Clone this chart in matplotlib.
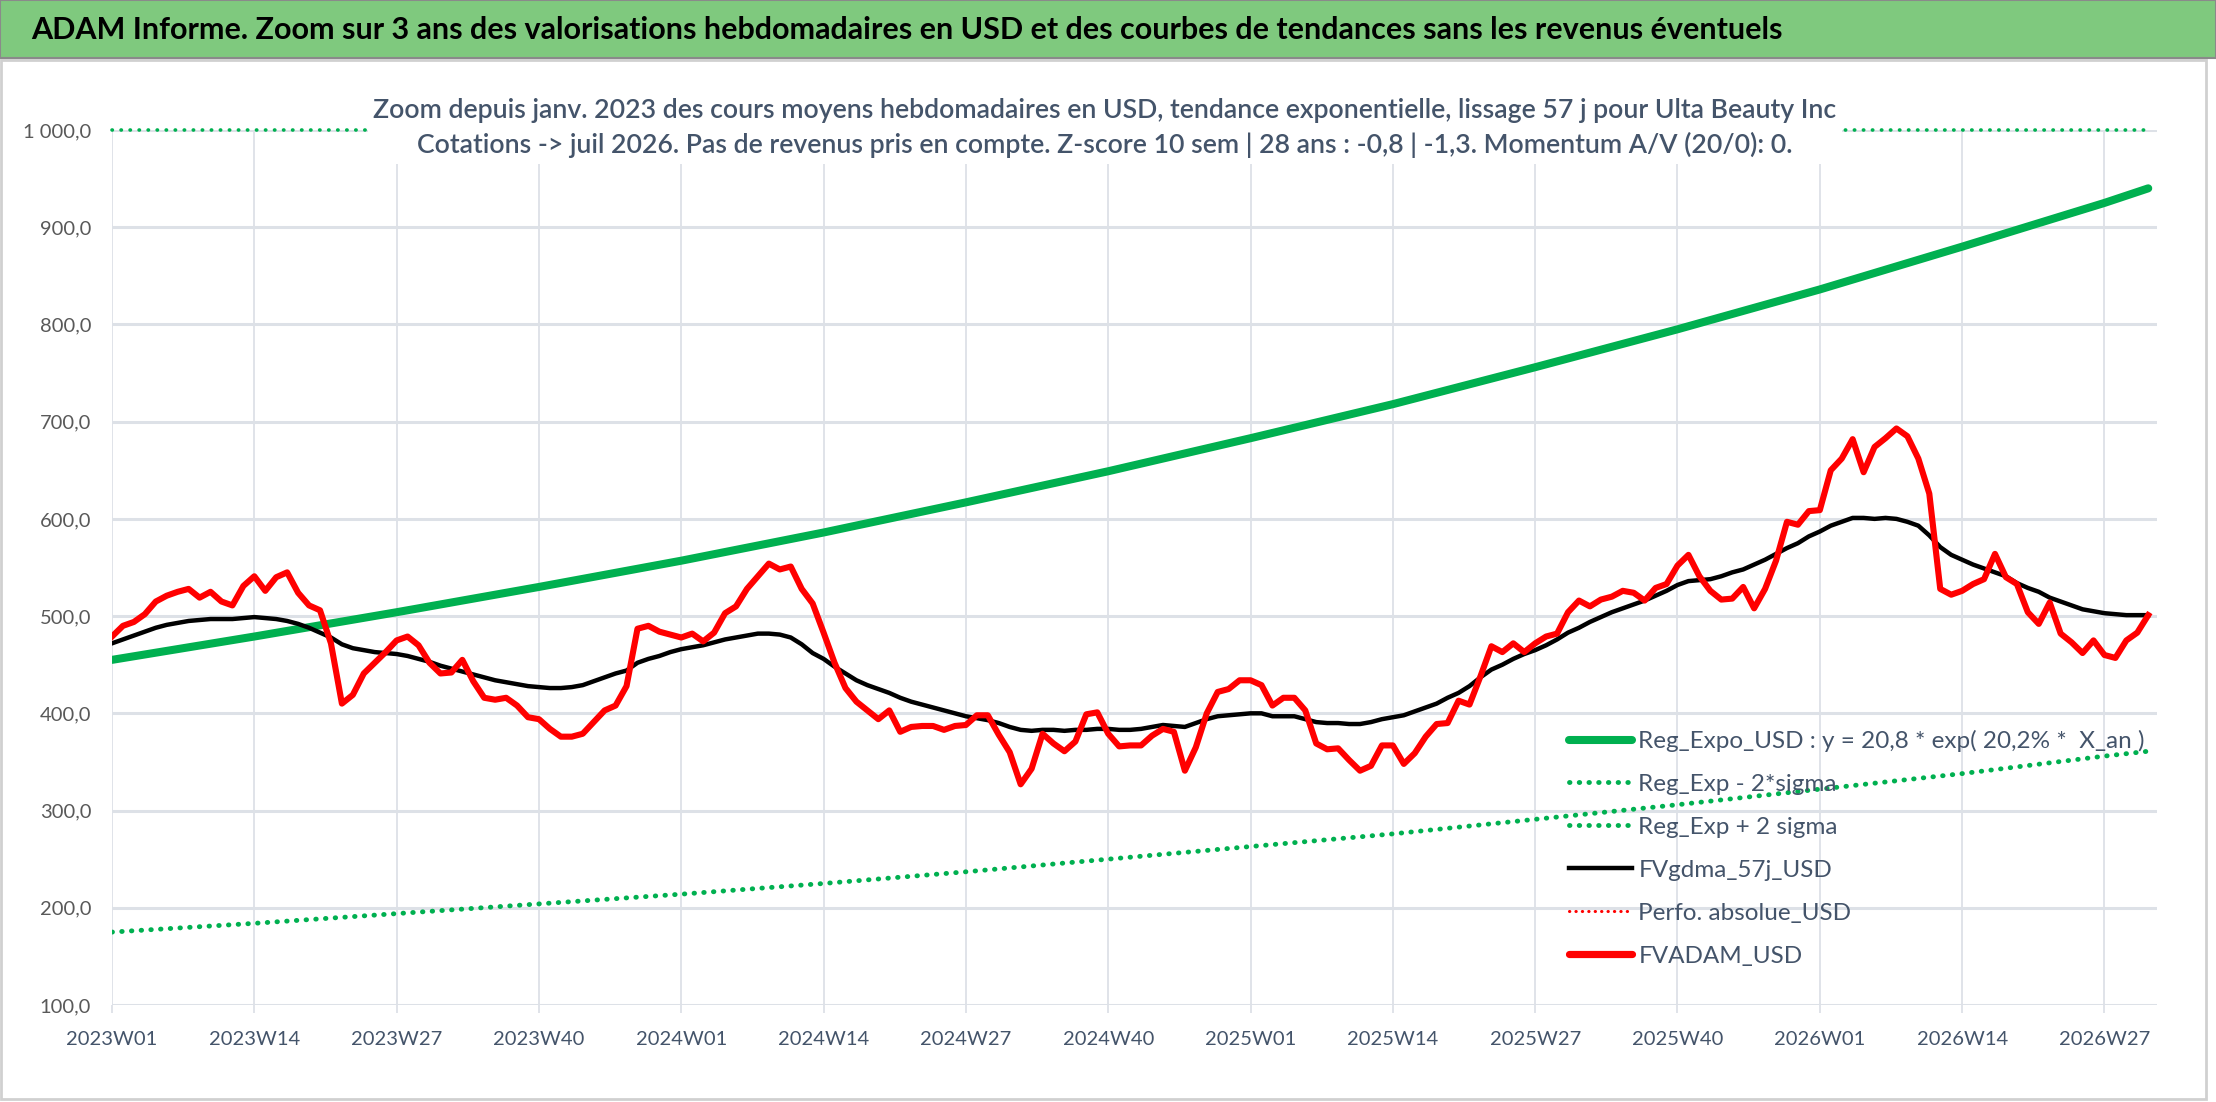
import matplotlib
matplotlib.use("Agg")
import matplotlib.pyplot as plt
from matplotlib.patches import Rectangle
from matplotlib.lines import Line2D
import numpy as np

plt.rcParams['font.family'] = ['Lato', 'DejaVu Sans']

# --- data -----------------------------------------------------------------
years = [2023, 2024, 2025, 2026]
n_weeks = 187
week_labels = [f"{y}W{w:02d}" for y in years for w in range(1, 53)][:n_weeks]

# FVADAM_USD weekly
fvadam = [479, 490, 494, 502, 515, 521, 525, 528, 519, 525, 515, 511, 531,
          541, 526, 540, 545, 524, 511, 506, 472, 410, 419, 441, 452, 463,
          475, 479, 470, 452, 441, 442, 455, 433, 416, 414, 416, 408, 396,
          394, 384, 376, 376, 379, 391, 403, 408, 428, 487, 490, 484, 481,
          478, 482, 474, 483, 503, 510, 528, 541, 554, 548, 551, 528, 513,
          483, 452, 426, 412, 403, 394, 403, 381, 386, 387, 387, 383, 387,
          388, 398, 398, 378, 360, 327, 343, 379, 369, 361, 371, 399, 401,
          379, 366, 367, 367, 377, 384, 381, 341, 365, 400, 422, 425, 434,
          434, 429, 408, 416, 416, 403, 369, 363, 364, 352, 341, 346, 367,
          367, 348, 359, 376, 389, 390, 413, 409, 438, 469, 463, 472, 463,
          472, 479, 482, 504, 516, 510, 517, 520, 526, 524, 516, 529, 533,
          552, 563, 541, 526, 517, 518, 530, 508, 528, 557, 597, 594, 608,
          609, 650, 662, 682, 648, 674, 683, 693, 685, 662, 626, 528, 522,
          526, 533, 538, 564, 540, 533, 504, 492, 514, 482, 473, 462, 475,
          460, 457, 475, 483, 501]

# FVgdma_57j_USD weekly
fvgdma = [472, 476, 480, 484, 488, 491, 493, 495, 496, 497, 497, 497, 498,
          499, 498, 497, 495, 492, 488, 483, 478, 471, 467, 465, 463, 462,
          461, 459, 456, 453, 449, 446, 443, 440, 437, 434, 432, 430, 428,
          427, 426, 426, 427, 429, 433, 437, 441, 444, 452, 456, 459, 463,
          466, 468, 470, 473, 476, 478, 480, 482, 482, 481, 478, 471, 462,
          456, 448, 441, 434, 429, 425, 421, 416, 412, 409, 406, 403, 400,
          397, 395, 393, 390, 386, 383, 382, 383, 383, 382, 383, 383, 384,
          384, 383, 383, 384, 386, 388, 387, 386, 390, 394, 397, 398, 399,
          400, 400, 397, 397, 397, 394, 391, 390, 390, 389, 389, 391, 394,
          396, 398, 402, 406, 410, 416, 421, 428, 437, 445, 450, 456, 461,
          465, 470, 476, 483, 488, 494, 499, 504, 508, 512, 516, 521, 526,
          532, 536, 537, 538, 541, 545, 548, 553, 558, 564, 570, 575, 582,
          587, 593, 597, 601, 601, 600, 601, 600, 597, 593, 583, 571, 563,
          558, 553, 549, 545, 541, 534, 529, 525, 519, 515, 511, 507, 505,
          503, 502, 501, 501, 501]

# regression and bands, read at the label weeks and at the last week
reg_weeks = [0, 13, 26, 39, 52, 65, 78, 91, 104, 117, 130, 143, 156, 169, 182, 186]
reg_expo = [455, 479, 504, 530, 557, 586, 617, 649, 683, 718, 756, 795, 836, 880, 925, 940]
reg_low = [175, 184, 194, 204, 214, 225, 237, 250, 263, 276, 291, 306, 322, 338, 356, 361]
reg_high = [1000] * len(reg_weeks)  # off scale, sits on the axis maximum

y_ticks = [100, 200, 300, 400, 500, 600, 700, 800, 900, 1000]

# --- figure ----------------------------------------------------------------
W, H = 2216, 1102
fig = plt.figure(figsize=(W / 100, H / 100), dpi=100)

# chart border + green title bar
fig.patches.append(Rectangle((1 / W, 3 / H), 2205 / W, (H - 63) / H, transform=fig.transFigure,
                             facecolor='white', edgecolor='#D0D0D0', lw=2, zorder=-5))
fig.patches.append(Rectangle((0, 1 - 58 / H), 1, 58 / H, transform=fig.transFigure,
                             facecolor='#7FC97E', edgecolor='#8A8A8A', lw=1.5, zorder=-5))
fig.text(31 / W, 1 - 30 / H,
         "ADAM Informe. Zoom sur 3 ans des valorisations hebdomadaires en USD et des courbes de tendances sans les revenus éventuels",
         fontsize=22, fontweight='bold', color='black', ha='left', va='center')

ax = fig.add_axes([112 / W, 1 - 1005 / H, (2157 - 112) / W, (1005 - 130) / H])
ax.set_facecolor('white')

x = np.arange(n_weeks)
grid_c = '#DDE1E7'

ax.plot(reg_weeks, reg_expo, color='#00B050', lw=5.8, solid_capstyle='round', zorder=3)
ax.plot(reg_weeks, reg_low, color='#00B050', lw=3.5, linestyle=(0, (0.1, 1.9)),
        dash_capstyle='round', zorder=3)
ax.plot(reg_weeks, reg_high, color='#00B050', lw=2.6, linestyle=(0, (0.1, 2.4)),
        dash_capstyle='round', zorder=3, clip_on=False)
ax.plot(x, fvgdma, color='black', lw=3.2, zorder=4)
ax.plot(x, fvadam, color='#FF0000', lw=4.4, zorder=5)

ax.set_xlim(0, 186.8)
ax.set_ylim(100, 1000)
for s in ax.spines.values():
    s.set_visible(False)

xt = list(range(0, n_weeks, 13))
ax.set_xticks(xt)
ax.set_xticklabels([week_labels[i] for i in xt], fontsize=14.5, color='#44546A')
ax.set_yticks(y_ticks)
ax.set_yticklabels([f"{v:,.1f}".replace(',', ' ').replace('.', ',') for v in y_ticks],
                   fontsize=14.5, color='#595959')
ax.tick_params(axis='x', length=6, width=1.3, color=grid_c, pad=12.5)
ax.tick_params(axis='y', length=0, pad=15)
ax.grid(axis='y', color=grid_c, lw=2.2, zorder=0)
ax.grid(axis='x', color=grid_c, lw=1.3, zorder=0)
ax.set_axisbelow(True)

# subtitle box on top of the +2 sigma line
sub = ("Zoom depuis janv. 2023 des cours moyens hebdomadaires en USD, tendance exponentielle, lissage 57 j pour Ulta Beauty Inc\n"
       "Cotations -> juil 2026. Pas de revenus pris en compte. Z-score 10 sem | 28 ans : -0,8 | -1,3. Momentum A/V (20/0): 0.")
fig.text(1105 / W, 1 - 128 / H, sub, fontsize=19.2, fontweight='semibold', color='#44546A',
         ha='center', va='center', linespacing=1.45, zorder=10,
         bbox=dict(facecolor='white', edgecolor='none', pad=4))

handles = [
    Line2D([], [], color='#00B050', lw=5.8, solid_capstyle='round'),
    Line2D([], [], color='#00B050', lw=3.5, linestyle=(0, (0.1, 1.9)), dash_capstyle='round'),
    Line2D([], [], color='#00B050', lw=3.5, linestyle=(0, (0.1, 1.9)), dash_capstyle='round'),
    Line2D([], [], color='black', lw=3.2),
    Line2D([], [], color='#FF0000', lw=2.2, linestyle=(0, (0.1, 2.0)), dash_capstyle='round'),
    Line2D([], [], color='#FF0000', lw=5.2, solid_capstyle='round'),
]
labels = ["Reg_Expo_USD : y = 20,8 * exp( 20,2% *  X_an )",
          "Reg_Exp - 2*sigma",
          "Reg_Exp + 2 sigma",
          "FVgdma_57j_USD",
          "Perfo. absolue_USD",
          "FVADAM_USD"]
leg = ax.legend(handles, labels, loc='upper left', bbox_to_anchor=(1569 / W, 1 - 730 / H),
                bbox_transform=fig.transFigure, frameon=False, fontsize=17.5,
                handlelength=2.6, handletextpad=0.25, labelspacing=0.9, borderpad=0,
                borderaxespad=0)
for t in leg.get_texts():
    t.set_color('#44546A')

fig.savefig('out.png', dpi=100)
